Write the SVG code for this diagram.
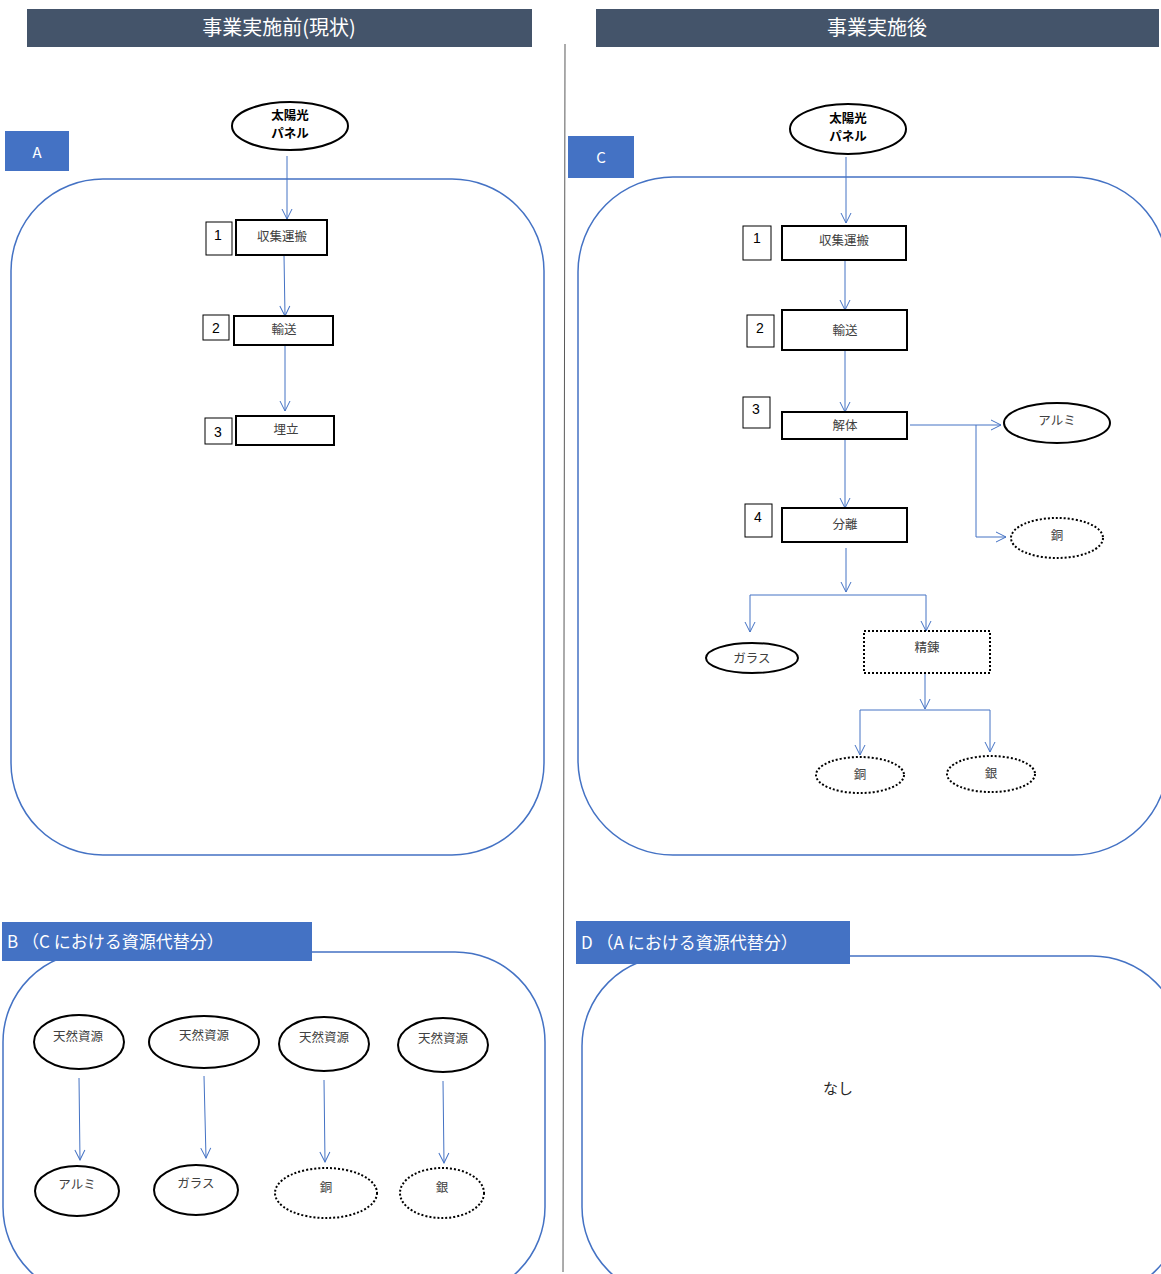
<svg xmlns="http://www.w3.org/2000/svg" width="1161" height="1274" viewBox="0 0 1161 1274">
<defs>
<marker id="ah" viewBox="0 0 12 12" refX="11" refY="6" markerWidth="12" markerHeight="12" markerUnits="userSpaceOnUse" orient="auto">
<path d="M1,1 L11,6 L1,11" fill="none" stroke="#4472C4" stroke-width="1"/>
</marker>
</defs>
<style>
text{font-family:"Noto Sans CJK JP","Liberation Sans",sans-serif;}
.hdr{fill:#44546A;}
.hdrt{fill:#fff;font-size:20px;text-anchor:middle;}
.lbl{fill:#4472C4;}
.lblt{fill:#fff;font-size:15px;}
.lblw{fill:#fff;font-size:17px;}
.panel{fill:none;stroke:#4472C4;stroke-width:1.5;}
.box{fill:#fff;stroke:#000;stroke-width:2;}
.num{fill:#fff;stroke:#000;stroke-width:1;}
.numt{fill:#000;font-size:14px;font-family:"Liberation Sans",sans-serif;text-anchor:middle;}
.t{fill:#404040;font-size:12.5px;text-anchor:middle;}
.ell{fill:#fff;stroke:#000;stroke-width:2;}
.dot{fill:#fff;stroke:#000;stroke-width:2;stroke-dasharray:2 2;}
.src{fill:#000;font-size:12.5px;font-weight:bold;text-anchor:middle;}
.c{fill:none;stroke:#4472C4;stroke-width:1;}
.ca{fill:none;stroke:#4472C4;stroke-width:1;marker-end:url(#ah);}
</style>
<rect width="1161" height="1274" fill="#fff"/>

<g id="header-before"><rect class="hdr" x="27" y="9" width="505" height="38"/><text class="hdrt" x="279" y="35">事業実施前(現状)</text></g>
<g id="header-after"><rect class="hdr" x="596" y="9" width="563" height="38"/><text class="hdrt" x="877" y="35">事業実施後</text></g>
<line id="divider" x1="565" y1="44" x2="563" y2="1272" stroke="#595959" stroke-width="1"/>

<g id="panel-A"><rect class="panel" x="11" y="179" width="533" height="676" rx="92"/></g>
<g id="label-A"><rect class="lbl" x="5" y="131" width="64" height="40"/><text class="lblt" x="37" y="158" text-anchor="middle">A</text></g>
<g id="panel-C"><rect class="panel" x="578" y="177" width="590" height="678" rx="95"/></g>
<g id="label-C"><rect class="lbl" x="568" y="136" width="66" height="42"/><text class="lblt" x="601" y="163" text-anchor="middle">C</text></g>
<g id="panel-B"><rect class="panel" x="3" y="952" width="542" height="345" rx="90"/></g>
<g id="label-B"><rect class="lbl" x="2" y="922" width="310" height="39"/><text class="lblw" x="7" y="948">B （C における資源代替分）</text></g>
<g id="panel-D"><rect class="panel" x="582" y="956" width="600" height="341" rx="90"/></g>
<g id="label-D"><rect class="lbl" x="576" y="921" width="274" height="43"/><text class="lblw" x="581" y="949">D （A における資源代替分）</text></g>
<g id="none-D"><text x="838" y="1094" font-size="15" fill="#262626" text-anchor="middle">なし</text></g>

<g id="connectors">
<line class="ca" x1="287" y1="156" x2="287" y2="219"/>
<line class="ca" x1="284" y1="255" x2="285" y2="316"/>
<line class="ca" x1="285" y1="345" x2="285" y2="411"/>

<line class="ca" x1="846" y1="157" x2="846" y2="223"/>
<line class="ca" x1="845" y1="261" x2="845" y2="310"/>
<line class="ca" x1="845" y1="350" x2="845" y2="412"/>
<line class="ca" x1="910" y1="425" x2="1001" y2="425"/>
<polyline class="ca" points="976,425 976,537 1006,537"/>
<line class="ca" x1="845" y1="440" x2="845" y2="508"/>
<line class="ca" x1="846" y1="548" x2="846" y2="592"/>
<line class="c" x1="750" y1="595" x2="926" y2="595"/>
<line class="ca" x1="750" y1="595" x2="750" y2="632"/>
<line class="ca" x1="926" y1="595" x2="926" y2="631"/>
<line class="ca" x1="925" y1="673" x2="925" y2="709"/>
<line class="c" x1="860" y1="710" x2="990" y2="710"/>
<line class="ca" x1="860" y1="710" x2="860" y2="755"/>
<line class="ca" x1="990" y1="710" x2="990" y2="752"/>

<line class="ca" x1="79" y1="1078" x2="80" y2="1160"/>
<line class="ca" x1="204" y1="1076" x2="206" y2="1158"/>
<line class="ca" x1="324" y1="1080" x2="325" y2="1162"/>
<line class="ca" x1="443" y1="1081" x2="444" y2="1163"/>
</g>

<g id="A-panel-src"><ellipse class="ell" cx="290" cy="126" rx="58" ry="24"/><text class="src" x="290" y="120">太陽光</text><text class="src" x="290" y="138">パネル</text></g>
<g id="A-step1"><rect class="num" x="206" y="222" width="26" height="33"/><text class="numt" x="218" y="240">1</text><rect class="box" x="236" y="220" width="91" height="35"/><text class="t" x="282" y="241">収集運搬</text></g>
<g id="A-step2"><rect class="num" x="203" y="315" width="26" height="25"/><text class="numt" x="216" y="333">2</text><rect class="box" x="234" y="316" width="99" height="29"/><text class="t" x="284" y="334">輸送</text></g>
<g id="A-step3"><rect class="num" x="205" y="418" width="27" height="26"/><text class="numt" x="218" y="437">3</text><rect class="box" x="236" y="416" width="98" height="29"/><text class="t" x="286" y="434">埋立</text></g>

<g id="C-panel-src"><ellipse class="ell" cx="848" cy="129" rx="58" ry="25"/><text class="src" x="848" y="123">太陽光</text><text class="src" x="848" y="141">パネル</text></g>
<g id="C-step1"><rect class="num" x="743" y="226" width="28" height="34"/><text class="numt" x="757" y="243">1</text><rect class="box" x="782" y="226" width="124" height="34"/><text class="t" x="844" y="245">収集運搬</text></g>
<g id="C-step2"><rect class="num" x="747" y="315" width="27" height="32"/><text class="numt" x="760" y="333">2</text><rect class="box" x="782" y="310" width="125" height="40"/><text class="t" x="845" y="335">輸送</text></g>
<g id="C-step3"><rect class="num" x="743" y="397" width="27" height="31"/><text class="numt" x="756" y="414">3</text><rect class="box" x="782" y="412" width="125" height="27"/><text class="t" x="845" y="430">解体</text></g>
<g id="C-step4"><rect class="num" x="745" y="504" width="27" height="33"/><text class="numt" x="758" y="522">4</text><rect class="box" x="782" y="508" width="125" height="34"/><text class="t" x="845" y="529">分離</text></g>
<g id="C-alumi"><ellipse class="ell" cx="1057" cy="423" rx="53" ry="20"/><text class="t" x="1057" y="425">アルミ</text></g>
<g id="C-copper1"><ellipse class="dot" cx="1057" cy="538" rx="46" ry="20"/><text class="t" x="1057" y="540">銅</text></g>
<g id="C-glass"><ellipse class="ell" cx="752" cy="658" rx="46" ry="15"/><text class="t" x="752" y="663">ガラス</text></g>
<g id="C-refine"><rect class="dot" x="864" y="631" width="126" height="42"/><text class="t" x="927" y="652">精錬</text></g>
<g id="C-copper2"><ellipse class="dot" cx="860" cy="775" rx="44" ry="18"/><text class="t" x="860" y="779">銅</text></g>
<g id="C-silver"><ellipse class="dot" cx="991" cy="774" rx="44" ry="18"/><text class="t" x="991" y="778">銀</text></g>

<g id="B-nat1"><ellipse class="ell" cx="79" cy="1042" rx="45" ry="27"/><text class="t" x="78" y="1041">天然資源</text></g>
<g id="B-nat2"><ellipse class="ell" cx="204" cy="1042" rx="55" ry="26"/><text class="t" x="204" y="1040">天然資源</text></g>
<g id="B-nat3"><ellipse class="ell" cx="324" cy="1044" rx="45" ry="27"/><text class="t" x="324" y="1042">天然資源</text></g>
<g id="B-nat4"><ellipse class="ell" cx="443" cy="1045" rx="45" ry="27"/><text class="t" x="443" y="1043">天然資源</text></g>
<g id="B-alumi"><ellipse class="ell" cx="77" cy="1191" rx="42" ry="25"/><text class="t" x="77" y="1189">アルミ</text></g>
<g id="B-glass"><ellipse class="ell" cx="196" cy="1190" rx="42" ry="25"/><text class="t" x="196" y="1188">ガラス</text></g>
<g id="B-copper"><ellipse class="dot" cx="326" cy="1193" rx="51" ry="25"/><text class="t" x="326" y="1192">銅</text></g>
<g id="B-silver"><ellipse class="dot" cx="442" cy="1193" rx="42" ry="25"/><text class="t" x="442" y="1192">銀</text></g>
</svg>
